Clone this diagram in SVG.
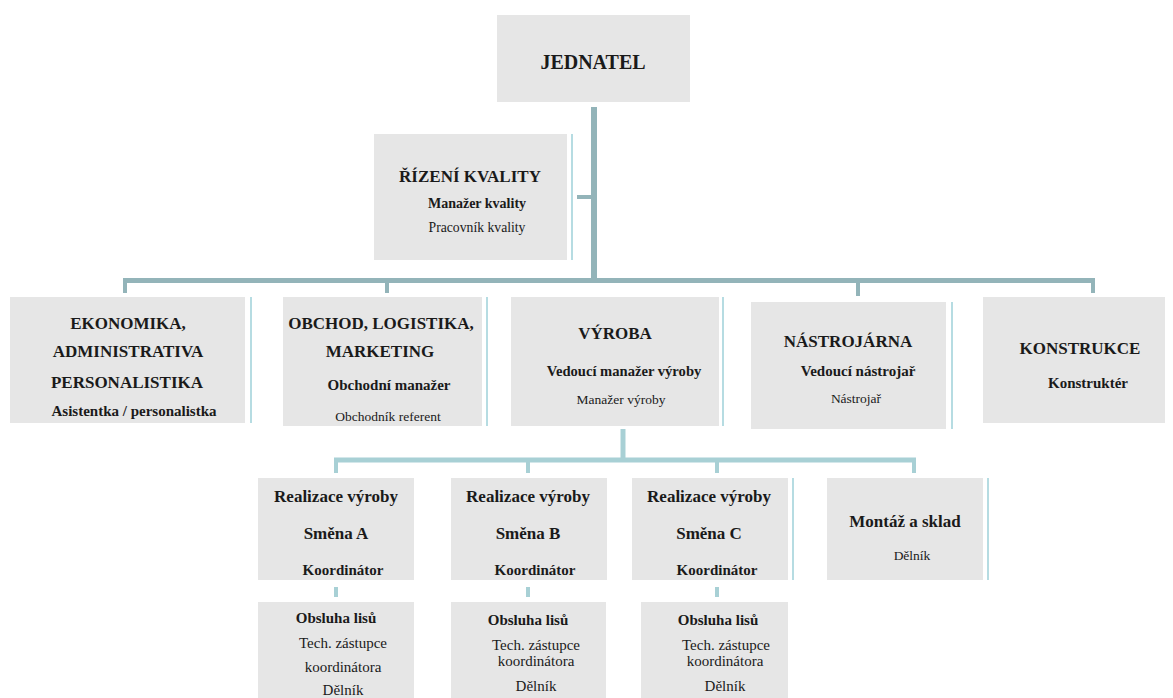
<svg xmlns="http://www.w3.org/2000/svg" width="1173" height="698" viewBox="0 0 1173 698">
<style>
.box{fill:#e6e6e6}
.side{stroke:#b6dce2;stroke-width:2;fill:none}
.main{stroke:#93b4b9;fill:none}
.sub{stroke:#a8d0d5;fill:none}
text{fill:#1a1a1a;text-anchor:middle}
.h{font-weight:bold;font-size:17px}
.b{font-weight:bold;font-size:15px}
.r{font-size:13.5px}
.r15{font-size:15px}
</style>
<rect width="1173" height="698" fill="#ffffff"/>
<g id="connectors">
<line class="main" x1="594" y1="107" x2="594" y2="283" stroke-width="6"/>
<line class="main" x1="577" y1="197" x2="594" y2="197" stroke-width="4"/>
<line class="main" x1="123" y1="280.5" x2="1095" y2="280.5" stroke-width="5"/>
<line class="main" x1="125" y1="280" x2="125" y2="293" stroke-width="4"/>
<line class="main" x1="387" y1="280" x2="387" y2="293" stroke-width="4"/>
<line class="main" x1="858" y1="280" x2="858" y2="296" stroke-width="4"/>
<line class="main" x1="1093" y1="280" x2="1093" y2="293" stroke-width="4"/>
<line class="sub" x1="623" y1="429" x2="623" y2="462" stroke-width="5"/>
<line class="sub" x1="334" y1="460" x2="916" y2="460" stroke-width="5"/>
<line class="sub" x1="336" y1="460" x2="336" y2="473" stroke-width="4"/>
<line class="sub" x1="528" y1="460" x2="528" y2="473" stroke-width="4"/>
<line class="sub" x1="717" y1="460" x2="717" y2="473" stroke-width="4"/>
<line class="sub" x1="914" y1="460" x2="914" y2="473" stroke-width="4"/>
<line class="sub" x1="336" y1="587" x2="336" y2="597" stroke-width="4"/>
<line class="sub" x1="528" y1="587" x2="528" y2="597" stroke-width="4"/>
<line class="sub" x1="717" y1="587" x2="717" y2="597" stroke-width="4"/>
</g>
<g font-family="'Liberation Serif', 'Times New Roman', serif">
<g id="jednatel">
<rect class="box" x="497" y="15" width="193" height="87"/>
<text x="593" y="69" style="font-weight:bold;font-size:20px">JEDNATEL</text>
</g>
<g id="rizeni-kvality">
<rect class="box" x="374" y="134" width="193" height="126"/>
<line class="side" x1="572" y1="134" x2="572" y2="260"/>
<text class="h" x="470" y="182">ŘÍZENÍ KVALITY</text>
<text x="477" y="208" style="font-weight:bold;font-size:14px">Manažer kvality</text>
<text x="477" y="232" style="font-size:13.7px">Pracovník kvality</text>
</g>
<g id="ekonomika">
<rect class="box" x="10" y="297" width="235" height="126"/>
<line class="side" x1="251" y1="297" x2="251" y2="423"/>
<text class="h" x="128" y="329">EKONOMIKA,</text>
<text class="h" x="128" y="357">ADMINISTRATIVA</text>
<text class="h" x="127" y="388">PERSONALISTIKA</text>
<text class="b" x="134" y="416">Asistentka / personalistka</text>
</g>
<g id="obchod">
<rect class="box" x="283" y="297" width="199" height="129"/>
<line class="side" x1="487" y1="297" x2="487" y2="426"/>
<text class="h" x="381" y="329">OBCHOD, LOGISTIKA,</text>
<text class="h" x="380" y="357">MARKETING</text>
<text class="b" x="389" y="390">Obchodní manažer</text>
<text class="r" x="388" y="421">Obchodník referent</text>
</g>
<g id="vyroba">
<rect class="box" x="511" y="297" width="208" height="129"/>
<line class="side" x1="723" y1="297" x2="723" y2="426"/>
<text class="h" x="615" y="339">VÝROBA</text>
<text x="624" y="376" style="font-weight:bold;font-size:14.6px">Vedoucí manažer výroby</text>
<text class="r" x="621" y="404">Manažer výroby</text>
</g>
<g id="nastrojarna">
<rect class="box" x="751" y="302" width="195" height="127"/>
<line class="side" x1="952" y1="302" x2="952" y2="429"/>
<text class="h" x="848" y="347">NÁSTROJÁRNA</text>
<text class="b" x="858" y="376">Vedoucí nástrojař</text>
<text class="r" x="856" y="403">Nástrojař</text>
</g>
<g id="konstrukce">
<rect class="box" x="983" y="297" width="182" height="126"/>
<text class="h" x="1080" y="354">KONSTRUKCE</text>
<text class="b" x="1088" y="388">Konstruktér</text>
</g>
<g id="smena-a">
<rect class="box" x="258" y="478" width="156" height="102"/>
<text class="h" x="336" y="502">Realizace výroby</text>
<text class="h" x="336" y="539">Směna A</text>
<text class="b" x="343" y="575">Koordinátor</text>
</g>
<g id="smena-b">
<rect class="box" x="451" y="478" width="156" height="102"/>
<text class="h" x="528" y="502">Realizace výroby</text>
<text class="h" x="528" y="539">Směna B</text>
<text class="b" x="535" y="575">Koordinátor</text>
</g>
<g id="smena-c">
<rect class="box" x="632" y="478" width="156" height="102"/>
<line class="side" x1="793" y1="478" x2="793" y2="580"/>
<text class="h" x="709" y="502">Realizace výroby</text>
<text class="h" x="709" y="539">Směna C</text>
<text class="b" x="717" y="575">Koordinátor</text>
</g>
<g id="montaz">
<rect class="box" x="827" y="478" width="156" height="102"/>
<line class="side" x1="988" y1="478" x2="988" y2="580"/>
<text class="h" x="905" y="527">Montáž a sklad</text>
<text class="r" x="912" y="560">Dělník</text>
</g>
<g id="obsluha-a">
<rect class="box" x="258" y="602" width="156" height="96"/>
<text class="b" x="336" y="623">Obsluha lisů</text>
<text class="r15" x="343" y="648">Tech. zástupce</text>
<text class="r15" x="343" y="672">koordinátora</text>
<text class="r15" x="343" y="695">Dělník</text>
</g>
<g id="obsluha-b">
<rect class="box" x="451" y="602" width="155" height="96"/>
<text class="b" x="528" y="625">Obsluha lisů</text>
<text class="r15" x="536" y="650">Tech. zástupce</text>
<text class="r15" x="536" y="666">koordinátora</text>
<text class="r15" x="536" y="691">Dělník</text>
</g>
<g id="obsluha-c">
<rect class="box" x="641" y="602" width="147" height="96"/>
<text class="b" x="718" y="625">Obsluha lisů</text>
<text class="r15" x="726" y="650">Tech. zástupce</text>
<text class="r15" x="725" y="666">koordinátora</text>
<text class="r15" x="725" y="691">Dělník</text>
</g>
</g>
</svg>
